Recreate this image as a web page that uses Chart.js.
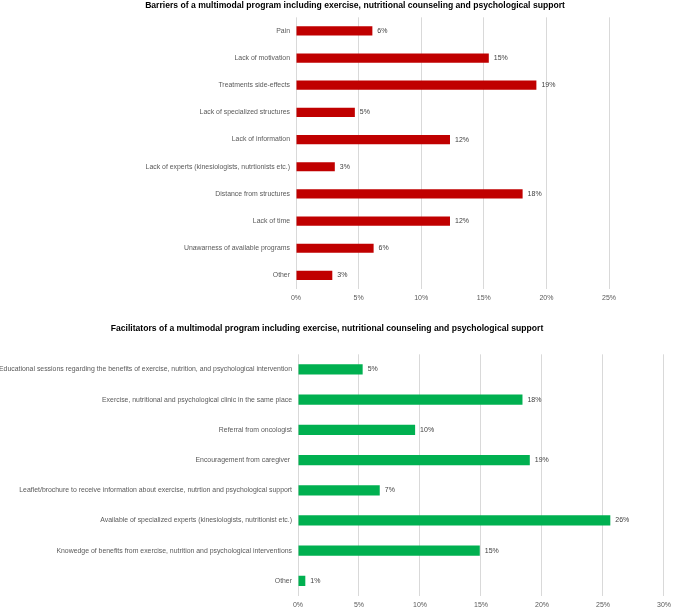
<!DOCTYPE html>
<html>
<head>
<meta charset="utf-8">
<script src="https://cdn.jsdelivr.net/npm/chart.js@4/dist/chart.umd.min.js"></script>
<style>
  html, body { margin: 0; padding: 0; background: #fff; overflow: hidden; width: 676px; height: 609px; }
  canvas { position: absolute; }
  #graficoBarreras { left: 101px; top: 0; }
  #graficoFacilitadores { left: -15px; top: 305px; }
</style>
</head>
<body>
<canvas id="graficoBarreras" width="575" height="305"></canvas>
<canvas id="graficoFacilitadores" width="691" height="304"></canvas>
<script>
// barreras
const barrerasLabels = [
  'Pain',
  'Lack of motivation',
  'Treatments side-effects',
  'Lack of specialized structures',
  'Lack of information',
  'Lack of experts (kinesiologists, nutrtionists etc.)',
  'Distance from structures',
  'Lack of time',
  'Unawarness of available programs',
  'Other'
];
const barrerasValores = [6.1, 15.4, 19.2, 4.7, 12.3, 3.1, 18.1, 12.3, 6.2, 2.9];
const barrerasTicks = [0, 5, 10, 15, 20, 25];

// facilitadores
const facilitadoresLabels = [
  'Educational sessions regarding the benefits of exercise, nutrition, and psychological intervention',
  'Exercise, nutritional and psychological clinic in the same place',
  'Referral from oncologist',
  'Encouragement from caregiver ',
  'Leaflet/brochure to receive information about exercise, nutrtion and psychological support',
  'Available of specialized experts (kinesiologists, nutritionist etc.)',
  'Knowedge of benefits from exercise, nutrition and psychological interventions',
  'Other'
];
const facilitadoresValores = [5.3, 18.4, 9.6, 19.0, 6.7, 25.6, 14.9, 0.6];
const facilitadoresTicks = [0, 5, 10, 15, 20, 25, 30];

const fuente = "'Liberation Sans Narrow', 'Liberation Sans', sans-serif";
const gris = '#595959';

const etiquetas = {
  id: 'etiquetas',
  afterDatasetsDraw(chart) {
    const ctx = chart.ctx;
    const meta = chart.getDatasetMeta(0);
    const data = chart.data.datasets[0].data;
    ctx.save();
    ctx.font = '7px ' + fuente;
    ctx.fillStyle = '#404040';
    ctx.textAlign = 'left';
    ctx.textBaseline = 'middle';
    meta.data.forEach((bar, i) => {
      ctx.fillText(Math.round(data[i]) + '%', bar.x + 5, bar.y);
    });
    ctx.restore();
  }
};

function crearGrafico(id, labels, valores, ticks, color, titulo, opts) {
  new Chart(document.getElementById(id), {
    type: 'bar',
    data: {
      labels: labels,
      datasets: [{
        data: valores,
        backgroundColor: color,
        barPercentage: 0.34,
        categoryPercentage: 1
      }]
    },
    options: {
      indexAxis: 'y',
      responsive: false,
      animation: false,
      devicePixelRatio: 1,
      layout: { padding: opts.padding },
      plugins: {
        legend: { display: false },
        tooltip: { enabled: false },
        title: {
          display: true,
          text: titulo,
          color: '#000',
          font: { family: fuente, size: 8.6, weight: 'bold' },
          padding: opts.titlePadding
        }
      },
      scales: {
        x: {
          min: ticks[0],
          max: ticks[ticks.length - 1],
          afterBuildTicks: s => { s.ticks = ticks.map(v => ({ value: v })); },
          afterFit: s => { s.height = opts.xHeight; },
          grid: { color: '#d9d9d9', drawTicks: false },
          border: { display: false },
          ticks: {
            color: gris,
            padding: 5,
            font: { family: fuente, size: 7 },
            callback: v => v + '%'
          }
        },
        y: {
          afterFit: s => { s.width = opts.yWidth; },
          grid: { display: false, drawTicks: false },
          border: { display: false },
          ticks: {
            color: gris,
            padding: 6,
            font: { family: fuente, size: 6.9 }
          }
        }
      }
    },
    plugins: [etiquetas]
  });
}

crearGrafico('graficoBarreras', barrerasLabels, barrerasValores, barrerasTicks, '#C00000',
  'Barriers of a multimodal program including exercise, nutritional counseling and psychological support',
  { padding: { left: 0, right: 67, top: 0, bottom: 0 }, titlePadding: { top: 0, bottom: 7 }, xHeight: 16, yWidth: 195 });

crearGrafico('graficoFacilitadores', facilitadoresLabels, facilitadoresValores, facilitadoresTicks, '#00B050',
  'Facilitators of a multimodal program including exercise, nutritional counseling and psychological support',
  { padding: { left: 0, right: 7, top: 0, bottom: 0 }, titlePadding: { top: 18, bottom: 21 }, xHeight: 13, yWidth: 313 });
</script>
</body>
</html>
